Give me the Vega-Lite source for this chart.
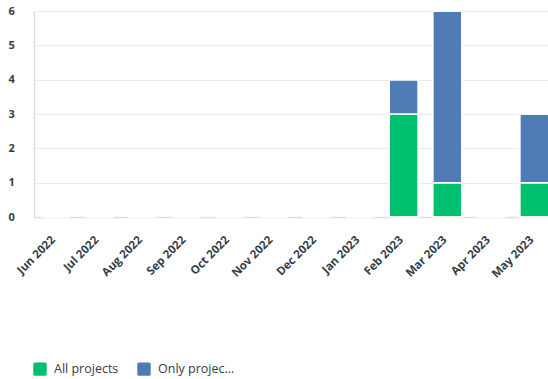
{
  "$schema": "https://vega.github.io/schema/vega-lite/v6.json",
  "autosize": {"type": "none"},
  "width": 522,
  "height": 206,
  "padding": {"left": 34, "top": 11, "right": -8, "bottom": 162},
  "background": "white",
  "config": {
    "view": {"stroke": null},
    "font": "Open Sans"
  },
  "data": {
    "values": [
      {"month": "Jun 2022", "series": "All projects", "count": 0},
      {"month": "Jun 2022", "series": "Only projec...", "count": 0},
      {"month": "Jul 2022", "series": "All projects", "count": 0},
      {"month": "Jul 2022", "series": "Only projec...", "count": 0},
      {"month": "Aug 2022", "series": "All projects", "count": 0},
      {"month": "Aug 2022", "series": "Only projec...", "count": 0},
      {"month": "Sep 2022", "series": "All projects", "count": 0},
      {"month": "Sep 2022", "series": "Only projec...", "count": 0},
      {"month": "Oct 2022", "series": "All projects", "count": 0},
      {"month": "Oct 2022", "series": "Only projec...", "count": 0},
      {"month": "Nov 2022", "series": "All projects", "count": 0},
      {"month": "Nov 2022", "series": "Only projec...", "count": 0},
      {"month": "Dec 2022", "series": "All projects", "count": 0},
      {"month": "Dec 2022", "series": "Only projec...", "count": 0},
      {"month": "Jan 2023", "series": "All projects", "count": 0},
      {"month": "Jan 2023", "series": "Only projec...", "count": 0},
      {"month": "Feb 2023", "series": "All projects", "count": 3},
      {"month": "Feb 2023", "series": "Only projec...", "count": 1},
      {"month": "Mar 2023", "series": "All projects", "count": 1},
      {"month": "Mar 2023", "series": "Only projec...", "count": 5},
      {"month": "Apr 2023", "series": "All projects", "count": 0},
      {"month": "Apr 2023", "series": "Only projec...", "count": 0},
      {"month": "May 2023", "series": "All projects", "count": 1},
      {"month": "May 2023", "series": "Only projec...", "count": 2}
    ]
  },
  "mark": {"type": "bar", "stroke": "white", "strokeWidth": 1.5, "cornerRadiusTopLeft": 2, "cornerRadiusTopRight": 2},
  "encoding": {
    "x": {
      "field": "month", "type": "ordinal", "sort": null,
      "scale": {"paddingInner": 0.33, "paddingOuter": 0.165},
      "axis": {
        "title": null, "labelAngle": -45, "labelAlign": "right", "labelBaseline": "middle",
        "labelFontSize": 11.5, "labelFontWeight": 700, "labelColor": "#333e48",
        "ticks": false, "tickSize": 0, "labelPadding": 21, "labelOffset": -2,
        "domainColor": "#dddddd", "domainWidth": 1.5, "grid": false
      }
    },
    "y": {
      "field": "count", "type": "quantitative", "stack": "zero",
      "scale": {"domain": [0, 6], "nice": false},
      "axis": {
        "title": null, "tickCount": 6, "labelAlign": "left", "labelPadding": 26,
        "ticks": false, "tickSize": 0,
        "labelFontSize": 11, "labelFontWeight": 700, "labelColor": "#333e48",
        "domainColor": "#dddddd", "domainWidth": 1.5,
        "gridColor": "#ececec", "gridWidth": 1.2
      }
    },
    "color": {
      "field": "series", "type": "nominal",
      "scale": {"domain": ["All projects", "Only projec..."], "range": ["#00bf6f", "#507cb6"]},
      "legend": {
        "title": null, "orient": "none", "direction": "horizontal",
        "legendX": -1, "legendY": 351,
        "symbolType": "M-0.75,-1H0.75Q1,-1 1,-0.75V0.75Q1,1 0.75,1H-0.75Q-1,1 -1,0.75V-0.75Q-1,-1 -0.75,-1Z",
        "symbolSize": 180, "symbolStrokeWidth": 0, "symbolOpacity": 1,
        "labelFontSize": 12.5, "labelColor": "#333e48", "labelOffset": 7,
        "columnPadding": 18, "labelLimit": 200
      }
    },
    "order": {"field": "series", "sort": "ascending"}
  }
}
